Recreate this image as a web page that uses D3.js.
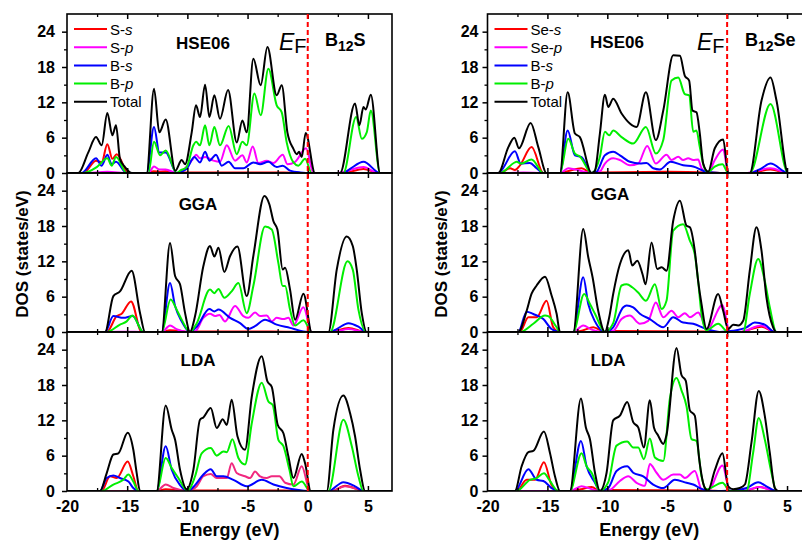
<!DOCTYPE html>
<html><head><meta charset="utf-8">
<script src="https://cdn.jsdelivr.net/npm/d3@7"></script>
<style>
body{margin:0;background:#fff;}
svg{display:block;font-family:"Liberation Sans",Arial,sans-serif;}
</style></head><body>
<svg id="c" width="802" height="541"></svg>
<script>
// ---------- DATA: [energy (eV), DOS (states/eV)] ----------
const energyTicks=[-20,-15,-10,-5,0,5];
const energyMinor=[-17.5,-12.5,-7.5,-2.5,2.5];
const dosTicks=[0,6,12,18,24];
const dosMinor=[3,9,15,21];
const methods=["HSE06","GGA","LDA"];
const legendS=["S-","S-","B-","B-","Total"];
const legendSe=["Se-","Se-","B-","B-",""];
const legendOrb=["s","p","s","p",""];

// B12S HSE06
const hseL_Ss=[[-18.64,0],[-17.59,2.1],[-17.12,1.8],[-16.65,4.9],[-16.23,2.4],[-15.87,3.2],[-14.9,0],[-13.3,0],[-12.8,0.3],[-12.3,0.2],[-11.8,0.3],[-10.9,0],[-10.5,0.1],[-2,0.1],[0.3,0],[2.9,0],[4.63,0.7],[5.9,0]];
const hseL_Sp=[[-18.6,0],[-16.65,0.2],[-14.9,0],[-13.24,0],[-12.77,1.1],[-12.33,0.6],[-11.8,0.6],[-10.9,0],[-10.47,0.3],[-9.5,2.5],[-9.28,3.1],[-8.95,2.5],[-8.53,2.7],[-7.84,2.1],[-7.29,1.9],[-6.73,4.7],[-6.04,2.1],[-5.43,3.0],[-5.07,1.8],[-4.57,4.5],[-4.1,1.7],[-3.41,2.1],[-2.85,1.7],[-2.08,3.1],[-1.69,1.5],[-1.05,1.9],[-0.14,4.2],[0.47,0],[2.4,0],[4.63,1.0],[5.87,0]];
const hseL_Bs=[[-18.78,0],[-17.59,2.5],[-17.12,1.25],[-16.65,3.1],[-16.29,1.5],[-15.93,1.9],[-15.04,0],[-13.38,0],[-12.77,7.8],[-12.33,3.5],[-11.8,3.5],[-10.89,0],[-10.5,0.2],[-10.06,0.7],[-9.42,2.7],[-8.95,1.8],[-8.53,3.6],[-8.17,2.1],[-7.62,3.1],[-7.15,1.25],[-6.57,1.9],[-6.04,0.8],[-5.35,0.8],[-4.52,1.8],[-3.96,1.5],[-3.27,1.9],[-2.58,1.0],[-2.08,1.25],[-1.47,0.4],[-0.64,0.1],[0.33,0],[2.96,0],[3.52,0.7],[4.63,1.9],[6.01,0]];
const hseL_Bp=[[-18.64,0],[-17.53,1.0],[-16.65,2.5],[-16.29,1.25],[-15.93,2.7],[-15.04,0],[-13.24,0],[-12.77,5.3],[-12.27,3.0],[-11.8,3.8],[-10.89,0],[-10.6,0.4],[-10.06,1.0],[-9.5,4.7],[-9.28,5.3],[-8.95,4.7],[-8.53,8.1],[-8.17,4.7],[-7.76,7.8],[-7.29,4.7],[-6.57,8.0],[-5.9,3.2],[-5.43,5.3],[-5.07,4.7],[-4.43,13.5],[-3.91,9.8],[-3.27,17.7],[-2.58,11.5],[-2.16,10.3],[-1.75,5.2],[-1.19,1.8],[-0.78,1.25],[-0.22,2.4],[0.33,0],[2.96,0],[4.02,9.5],[4.49,5.8],[4.9,6.9],[5.24,10.6],[6.01,0]];
const hseL_tot=[[-19.06,0],[-18.23,3.5],[-17.59,6.1],[-17.12,4.7],[-16.65,10.2],[-16.23,6.4],[-15.93,8.1],[-15.6,2.4],[-15.18,1.0],[-14.6,0],[-13.38,0],[-12.77,14.3],[-12.33,6.9],[-11.8,9.1],[-11.0,0.4],[-10.47,2.2],[-10.19,1.5],[-9.64,6.9],[-9.28,11.5],[-8.95,9.5],[-8.53,15.0],[-8.17,9.5],[-7.76,13.2],[-7.29,9.2],[-6.62,14.1],[-5.9,5.2],[-5.43,8.9],[-5.07,6.9],[-4.52,19.4],[-3.91,14.9],[-3.35,21.4],[-2.58,13.2],[-2.16,14.9],[-1.69,6.9],[-1.19,4.1],[-0.91,3.2],[-0.72,3.6],[-0.5,2.7],[-0.17,6.8],[0.6,0],[2.69,0],[3.93,11.8],[4.29,8.1],[4.63,11.2],[4.82,10.8],[5.24,13.3],[6.01,0]];

// B12Se HSE06
const hseR_Ss=[[-18.96,0],[-18.12,0.8],[-17.71,0.5],[-17.29,1.3],[-16.32,4.4],[-15.34,0],[-13.95,0],[-13.3,0.3],[-12.15,0.8],[-11.31,0],[-10.6,0.1],[-5,0.2],[-1.5,0.1],[0.1,0],[1.9,0],[3.62,0.6],[5.09,0]];
const hseR_Sp=[[-18.5,0],[-17,0.1],[-15.3,0],[-13.95,0],[-13.26,0.8],[-12.7,0.6],[-11.31,0],[-10.6,0.3],[-10.2,1.6],[-9.51,2.5],[-8.95,2.2],[-8.12,1.3],[-7.42,1.6],[-6.67,4.6],[-5.95,1.6],[-5.06,3.1],[-4.64,2.2],[-4.08,2.75],[-3.67,2.2],[-3.25,2.5],[-2.83,2.2],[-2.42,2.3],[-2.14,0.8],[-1.58,0.05],[-1.03,2.2],[-0.33,4.0],[0.09,0],[1.5,0],[3.62,0.8],[5.09,0]];
const hseR_Bs=[[-19.1,0],[-17.71,3.7],[-17.23,1.6],[-16.46,1.7],[-15.9,0.8],[-15.34,0],[-13.95,0],[-13.31,7.2],[-12.7,3.0],[-12.15,2.7],[-11.31,0],[-10.9,0.2],[-10.2,3.0],[-9.51,3.6],[-8.95,3.0],[-8.12,1.9],[-7.28,1.6],[-6.73,1.7],[-6.17,0.8],[-5.61,0.6],[-4.72,1.9],[-3.67,1.3],[-2.83,1.1],[-1.72,0.2],[-0.61,0],[1.9,0],[2.87,0.8],[3.62,1.6],[5.09,0]];
const hseR_Bp=[[-18.96,0],[-17.71,1.8],[-17.57,1.9],[-17.23,1.6],[-16.32,2.3],[-15.34,0],[-13.95,0],[-13.26,5.8],[-12.7,3.3],[-12.29,2.8],[-11.31,0],[-10.62,2.75],[-10.2,7.0],[-9.84,6.4],[-9.51,7.2],[-8.81,6.1],[-7.84,5.0],[-6.78,7.8],[-5.95,3.3],[-5.33,5.6],[-4.64,15.7],[-4.08,16.2],[-3.53,13.4],[-3.17,13.2],[-2.83,7.0],[-2.56,7.2],[-2.28,4.4],[-1.94,1.1],[-1.58,0.2],[-1.03,1.1],[-0.39,1.5],[0.09,0],[1.89,0],[3.62,11.7],[5.09,0]];
const hseR_tot=[[-19.1,0],[-18.26,4.4],[-17.76,6.0],[-17.37,4.2],[-16.4,8.5],[-15.76,4.4],[-15.07,0],[-13.95,0],[-13.31,13.7],[-12.7,6.7],[-12.29,6.1],[-11.31,0],[-11.05,0.3],[-10.62,6.7],[-10.2,13.3],[-9.92,11.2],[-9.51,12.6],[-8.81,10.1],[-8.12,8.4],[-7.56,7.8],[-6.78,13.7],[-5.95,5.6],[-5.33,10.6],[-4.5,20.0],[-3.94,19.9],[-3.53,16.5],[-3.17,15.7],[-2.89,10.6],[-2.56,10.3],[-2.28,6.7],[-2.0,1.6],[-1.58,0.2],[-1.03,4.2],[-0.33,5.7],[0.09,0],[1.89,0],[2.87,12.3],[3.62,16.2],[4.12,12.3],[5.09,0]];

// B12S GGA
const ggaL_Ss=[[-16.7,0],[-15.87,2.7],[-15.46,3.1],[-14.68,5.2],[-13.8,0],[-12.2,0],[-11.44,0.3],[-10.6,0.2],[-9.9,0],[-9.5,0.1],[-3,0.1],[0.3,0],[1.8,0],[3.38,0.7],[4.85,0]];
const ggaL_Sp=[[-16.5,0],[-15,0.05],[-13.8,0],[-12.13,0],[-11.44,1.1],[-10.9,0.5],[-9.9,0],[-9.36,0.1],[-8.67,2.4],[-8.12,3.1],[-7.7,2.7],[-7.34,2.9],[-6.87,1.8],[-6.04,4.4],[-5.35,2.7],[-4.93,2.4],[-4.38,3.3],[-3.96,2.7],[-3.41,2.8],[-2.99,1.8],[-2.58,2.4],[-2.02,2.2],[-1.61,2.4],[-1.19,1.1],[-0.36,4.2],[0.33,0],[2.13,0],[3.38,0.5],[4.76,0]];
const ggaL_Bs=[[-16.84,0],[-16.15,2.7],[-15.32,2.4],[-14.54,2.7],[-13.66,0],[-12.13,0],[-11.44,8.3],[-11.02,4.4],[-10.47,1.8],[-9.78,0],[-9.22,0.9],[-8.17,3.9],[-7.76,3.5],[-7.42,3.8],[-6.45,2.4],[-5.62,1.5],[-4.93,0.5],[-4.38,1.0],[-3.55,2.1],[-2.58,1.25],[-1.47,0.7],[-0.36,0.1],[0.33,0],[1.86,0],[2.41,0.5],[3.38,1.5],[4.21,0.9],[4.85,0]];
const ggaL_Bp=[[-16.7,0],[-15.6,1.25],[-15.04,1.8],[-14.57,2.8],[-13.66,0],[-12.13,0],[-11.39,5.5],[-10.89,3.8],[-10.47,2.1],[-9.78,0],[-9.22,1.5],[-8.12,7.2],[-7.76,6.6],[-7.42,7.3],[-6.93,5.8],[-6.32,6.9],[-5.76,8.3],[-5.07,3.2],[-4.52,7.8],[-3.55,17.9],[-2.99,17.4],[-2.44,11.7],[-2.08,7.8],[-1.88,7.8],[-1.47,3.8],[-1.05,1.1],[-0.36,2.0],[0.33,0],[1.86,0],[3.3,12.0],[3.74,10.6],[4.21,3.8],[4.85,0]];
const ggaL_tot=[[-16.84,0],[-16.15,6.1],[-15.6,6.9],[-14.63,10.4],[-13.93,3.2],[-13.52,0],[-12.13,0],[-11.44,15.1],[-11.02,9.5],[-10.61,8.1],[-10.19,3.2],[-9.78,0],[-9.36,2.7],[-8.67,11.2],[-8.12,14.6],[-7.76,12.8],[-7.42,14.3],[-6.93,10.2],[-6.45,12.9],[-5.84,14.5],[-5.07,6.1],[-4.52,12.9],[-3.6,23.1],[-3.19,21.7],[-2.85,18.8],[-2.52,17.4],[-2.08,10.6],[-1.88,10.9],[-1.47,7.2],[-1.05,2.1],[-0.36,6.5],[0.33,0],[1.72,0],[2.41,10.6],[3.24,16.2],[3.74,14.6],[4.07,10.6],[4.49,3.2],[4.9,0]];

// B12Se GGA
const ggaR_Ss=[[-17.3,0],[-16.59,2.5],[-15.9,2.5],[-15.07,5.3],[-14.51,0.8],[-13.95,0],[-12.84,0],[-12.0,0.3],[-11.17,0.8],[-10.2,0],[-9.5,0.15],[-2,0.1],[0,0],[1.0,0],[2.87,0.9],[4.0,0]];
const ggaR_Sp=[[-17,0],[-14,0],[-12.84,0],[-12.01,1.1],[-11.3,0.4],[-10.2,0],[-9.51,0.2],[-8.81,2.2],[-8.12,2.8],[-7.28,1.4],[-6.59,1.9],[-5.95,5.0],[-5.33,2.5],[-4.64,3.6],[-4.08,2.5],[-3.53,3.2],[-3.11,2.5],[-2.42,3.3],[-2.14,2.5],[-1.72,0.3],[-0.39,4.6],[0.23,0],[1.06,0],[2.87,1.1],[3.98,0]];
const ggaR_Bs=[[-17.43,0],[-16.73,3.45],[-16.18,3.05],[-15.34,2.2],[-14.65,0.5],[-13.95,0],[-12.84,0],[-12.01,9.3],[-11.59,4.75],[-11.03,1.8],[-10.2,0],[-9.51,0.8],[-8.67,4.2],[-8.39,4.5],[-7.84,4.2],[-7.28,3.1],[-6.45,2.2],[-5.33,0.8],[-4.5,2.5],[-3.67,1.6],[-2.83,1.4],[-1.72,0.5],[-0.61,0],[0.5,0.2],[1.62,0.8],[2.31,1.6],[3.14,1.25],[3.98,0]];
const ggaR_Bp=[[-17.29,0],[-16.18,1.4],[-15.2,2.8],[-14.93,2.7],[-14.23,0.8],[-13.95,0],[-12.84,0],[-11.93,6.45],[-11.45,4.75],[-11.03,3.1],[-10.2,0],[-9.51,1.5],[-8.81,7.9],[-8.39,8.1],[-7.92,7.6],[-7.42,6.7],[-6.78,5.3],[-6.03,8.1],[-5.47,3.9],[-5.06,5.3],[-4.5,17.2],[-3.67,18.3],[-3.11,15.5],[-2.7,13.2],[-2.42,8.7],[-2.14,3.1],[-1.72,0.3],[-0.75,1.4],[0.09,0],[1.34,0],[1.89,6.45],[2.59,12.4],[3.14,8.7],[3.56,4.2],[4.12,0]];
const ggaR_tot=[[-17.43,0],[-16.73,3.6],[-16.32,6.5],[-15.9,7.9],[-15.2,9.4],[-14.65,6.2],[-14.23,3.1],[-13.95,0],[-12.84,0],[-12.01,17.5],[-11.59,12.7],[-11.23,9.3],[-10.76,3.6],[-10.2,0],[-9.84,2.5],[-9.51,6.45],[-8.95,11.5],[-8.25,13.9],[-7.92,11.3],[-7.5,12.1],[-7.06,9.8],[-6.81,8.1],[-6.31,15.2],[-5.83,10.7],[-5.47,11.0],[-5.06,10.4],[-4.5,18.9],[-3.94,22.3],[-3.39,18.05],[-3.11,17.8],[-2.7,13.8],[-2.42,8.7],[-2.14,4.75],[-1.72,0.5],[-0.75,6.45],[-0.33,3.6],[0.09,0.5],[0.5,1.25],[0.92,1.1],[1.34,1.9],[1.89,10.4],[2.45,17.8],[2.87,13.8],[3.28,5.9],[3.84,0.8],[4.12,0]];

// B12S LDA
const ldaL_Ss=[[-17.12,0],[-16.43,2.5],[-15.87,2.2],[-14.96,5.0],[-14.49,2.5],[-14.07,0],[-12.55,0],[-11.8,0.3],[-11.0,0.2],[-10.0,0],[-9.5,0.1],[-2,0.1],[0.25,0],[2.0,0],[3.1,0.9],[4.76,0]];
const ldaL_Sp=[[-17,0],[-14,0],[-12.55,0],[-11.8,1.1],[-11.16,0.5],[-9.97,0],[-9.22,0.8],[-8.67,2.5],[-8.06,2.9],[-7.56,2.2],[-6.73,2.2],[-6.32,4.7],[-5.9,3.05],[-5.21,2.5],[-4.79,2.2],[-4.38,3.3],[-3.96,2.5],[-3.41,2.2],[-2.99,2.5],[-2.35,2.5],[-1.88,1.4],[-1.19,1.1],[-0.5,4.2],[0.19,0],[1.99,0],[3.1,0.8],[4.76,0]];
const ldaL_Bs=[[-17.26,0],[-16.7,2.2],[-16.15,2.65],[-15.6,2.2],[-14.9,1.6],[-14.49,0.5],[-14.07,0],[-12.55,0],[-11.8,7.6],[-11.3,3.6],[-10.61,1.0],[-9.97,0],[-9.36,1.0],[-8.67,2.8],[-8.06,3.7],[-7.56,2.5],[-7.01,2.5],[-6.18,1.9],[-5.07,0.8],[-3.82,1.9],[-2.85,1.1],[-1.75,0.5],[-0.91,0.2],[0.0,0],[1.72,0],[2.96,1.5],[3.93,0.8],[4.63,0]];
const ldaL_Bp=[[-17.12,0],[-16.15,1.1],[-15.32,1.9],[-14.9,2.8],[-14.49,1.6],[-14.07,0],[-12.55,0],[-11.8,5.6],[-11.3,3.9],[-10.75,2.2],[-9.97,0],[-9.36,2.5],[-8.81,6.4],[-8.06,7.3],[-7.56,6.0],[-7.01,6.7],[-6.73,6.6],[-6.26,8.8],[-5.76,5.6],[-5.21,4.5],[-4.65,11.5],[-3.82,18.4],[-3.27,15.2],[-2.91,14.6],[-2.44,8.7],[-2.02,7.6],[-1.52,3.6],[-1.19,0.8],[-0.5,1.6],[0.19,0],[1.72,0],[2.96,12.1],[3.66,7.6],[4.21,2.5],[4.63,0]];
const ldaL_tot=[[-17.26,0],[-16.7,3.05],[-16.15,6.2],[-15.73,6.4],[-14.96,9.9],[-14.49,7.0],[-14.21,3.05],[-13.93,0],[-12.55,0],[-11.8,14.5],[-11.3,10.4],[-11.02,8.7],[-10.61,3.6],[-10.06,0.3],[-9.5,3.6],[-8.95,12.1],[-8.67,12.5],[-8.06,14.1],[-7.56,10.7],[-7.06,12.2],[-6.73,11.2],[-6.32,15.5],[-5.84,9.3],[-5.21,7.0],[-4.65,16.0],[-3.82,22.9],[-3.35,18.6],[-2.99,17.7],[-2.49,11.2],[-2.02,9.8],[-1.61,5.9],[-1.19,2.2],[-0.5,6.3],[-0.22,4.7],[0.25,0],[1.58,0],[2.13,10.4],[2.96,16.2],[3.52,13.2],[3.93,9.3],[4.35,3.6],[4.76,0]];

// B12Se LDA
const ldaR_Ss=[[-17.57,0],[-16.73,1.9],[-16.04,1.9],[-15.29,4.9],[-14.65,1.0],[-14.09,0],[-13.12,0],[-12.2,0.3],[-11.31,0.7],[-10.62,0],[-10,0.15],[-2,0.1],[0,0],[1.5,0],[2.73,0.7],[4.0,0]];
const ldaR_Sp=[[-17,0],[-14,0],[-13.12,0],[-12.15,0.8],[-11.3,0.3],[-10.62,0],[-9.78,0.2],[-8.95,1.7],[-8.25,2.5],[-7.56,1.4],[-6.86,0.9],[-6.45,4.6],[-5.89,3.1],[-5.33,1.9],[-4.5,2.8],[-3.94,2.8],[-3.53,2.2],[-2.7,3.4],[-2.14,0.3],[-1.6,0],[-0.39,4.35],[0.23,0],[1.2,0],[2.73,0.7],[3.98,0]];
const ldaR_Bs=[[-17.71,0],[-16.59,3.7],[-15.9,1.9],[-15.34,1.7],[-14.65,0.5],[-14.09,0],[-13.12,0],[-12.2,8.5],[-11.73,4.2],[-11.03,1.4],[-10.62,0],[-9.92,0.5],[-9.23,3.4],[-8.34,4.2],[-7.84,3.1],[-7.0,2.5],[-6.17,1.1],[-5.33,0.5],[-4.36,1.9],[-3.39,1.4],[-2.83,1.1],[-2.14,0.35],[-1.44,0],[0.5,0.1],[1.62,0.5],[2.59,1.5],[3.28,0.8],[4.12,0]];
const ldaR_Bp=[[-17.57,0],[-16.46,1.9],[-15.9,2.2],[-15.29,3.0],[-14.79,1.7],[-14.09,0],[-13.12,0],[-12.15,6.4],[-11.73,4.2],[-11.31,3.1],[-10.62,0],[-9.92,1.5],[-9.23,7.7],[-8.34,8.4],[-7.84,7.4],[-7.42,7.4],[-6.95,5.4],[-6.45,8.9],[-6.03,5.7],[-5.33,5.1],[-4.78,15.7],[-4.22,19.2],[-3.81,17.1],[-3.39,14.4],[-2.97,8.8],[-2.56,8.5],[-2.14,2.5],[-1.72,0.3],[-0.39,1.4],[0.23,0],[1.62,0],[2.17,6.5],[2.64,12.4],[3.14,8.8],[3.7,3.1],[4.12,0]];
const ldaR_tot=[[-17.71,0],[-17.15,4.2],[-16.59,6.6],[-16.18,6.8],[-15.29,10.1],[-14.79,6.5],[-14.37,2.5],[-13.95,0],[-13.12,0],[-12.2,15.7],[-11.79,10.8],[-11.45,8.8],[-11.03,3.1],[-10.62,0],[-10.06,3.1],[-9.51,12.0],[-8.95,12.8],[-8.34,15.1],[-7.84,11.7],[-7.42,10.8],[-6.95,7.4],[-6.45,15.4],[-6.11,10.8],[-5.75,9.4],[-5.33,8.0],[-5.06,9.5],[-4.22,24.3],[-3.81,19.7],[-3.45,18.7],[-3.11,13.7],[-2.7,12.8],[-2.33,5.4],[-1.86,0.5],[-1.6,0.05],[-1.03,3.5],[-0.39,6.4],[0.09,0.8],[0.5,0.3],[1.06,0.5],[1.48,1.1],[2.03,8.2],[2.64,17.0],[3.14,12.8],[3.56,6.5],[3.98,0.5],[4.26,0]];

// ---------- LAYOUT ----------
const svg=d3.select("#c");
const xDomain=[-20,7], yDomain=[0,27];
const panelTops=[14,173,332], panelH=159;
const colors=["#ff0000","#ff00ff","#0000ff","#00ee00","#000000"];
const plots=[
  {x0:67,x1:392,compound:["B","12","S"],names:legendS,labPad:7,
   panels:[[hseL_Ss,hseL_Sp,hseL_Bs,hseL_Bp,hseL_tot],[ggaL_Ss,ggaL_Sp,ggaL_Bs,ggaL_Bp,ggaL_tot],[ldaL_Ss,ldaL_Sp,ldaL_Bs,ldaL_Bp,ldaL_tot]],
   mLab:[[203,49],[198,210],[198,366]], ef:[279,50], comp:[325,46], ytitle:22, spColor:[null,null,"#f0287f"]},
  {x0:487.5,x1:811,compound:["B","12","Se"],names:legendSe,labPad:4,
   panels:[[hseR_Ss,hseR_Sp,hseR_Bs,hseR_Bp,hseR_tot],[ggaR_Ss,ggaR_Sp,ggaR_Bs,ggaR_Bp,ggaR_tot],[ldaR_Ss,ldaR_Sp,ldaR_Bs,ldaR_Bp,ldaR_tot]],
   mLab:[[617,48],[610,200],[608,366]], ef:[697,50], comp:[745,46], ytitle:441, spColor:[null,null,null]}
];

plots.forEach((pl,pi)=>{
  const x=d3.scaleLinear().domain(xDomain).range([pl.x0,pl.x1]);
  pl.panels.forEach((curves,k)=>{
    const top=panelTops[k], bot=top+panelH;
    const y=d3.scaleLinear().domain(yDomain).range([bot,top]);
    const g=svg.append("g");
    const cid="clip"+pi+"_"+k;
    svg.append("clipPath").attr("id",cid).append("rect")
      .attr("x",pl.x0).attr("y",top).attr("width",pl.x1-pl.x0).attr("height",panelH);
    const line=d3.line().x(d=>x(d[0])).y(d=>y(d[1])).curve(d3.curveMonotoneX);
    const cg=g.append("g").attr("clip-path","url(#"+cid+")");
    curves.forEach((c,ci)=>{
      const data=[[xDomain[0],0]].concat(c,[[xDomain[1],0]]);
      let col=colors[ci];
      if(ci===1 && pl.spColor[k]) col=pl.spColor[k];
      cg.append("path").datum(data).attr("d",line).attr("fill","none")
        .attr("stroke",col).attr("stroke-width",2).attr("stroke-linejoin","round");
    });
    // frame
    g.append("rect").attr("x",pl.x0).attr("y",top).attr("width",pl.x1-pl.x0).attr("height",panelH)
      .attr("fill","none").attr("stroke","#000").attr("stroke-width",1.6);
    // y axis
    const ya=g.append("g").attr("transform",`translate(${pl.x0},0)`)
      .call(d3.axisLeft(y).tickValues(dosTicks).tickSize(5).tickPadding(pl.labPad).tickFormat(d3.format("d")));
    ya.select(".domain").remove();
    ya.selectAll("line").attr("stroke-width",1.5);
    ya.selectAll("text").attr("font-size",16).attr("font-weight","bold").attr("fill","#000")
      .attr("font-family","'Liberation Sans',Arial,sans-serif");
    const ym=g.append("g").attr("transform",`translate(${pl.x0},0)`)
      .call(d3.axisLeft(y).tickValues(dosMinor).tickSize(3).tickFormat(""));
    ym.select(".domain").remove(); ym.selectAll("line").attr("stroke-width",1.3);
    // x ticks inward top/bottom
    [[bot,d3.axisBottom],[top,d3.axisTop]].forEach(([yy,ax])=>{
      const a=g.append("g").attr("transform",`translate(0,${yy})`)
        .call(ax(x).tickValues(energyTicks.filter(v=>v>xDomain[0])).tickSize(-5).tickFormat(""));
      a.select(".domain").remove(); a.selectAll("line").attr("stroke-width",1.5);
      const b=g.append("g").attr("transform",`translate(0,${yy})`)
        .call(ax(x).tickValues(energyMinor).tickSize(-3).tickFormat(""));
      b.select(".domain").remove(); b.selectAll("line").attr("stroke-width",1.3);
    });
    if(k===2){
      const xl=g.append("g").attr("transform",`translate(0,${bot})`)
        .call(d3.axisBottom(x).tickValues(energyTicks).tickSize(0).tickPadding(10).tickFormat(d3.format("d")));
      xl.select(".domain").remove();
      xl.selectAll("text").attr("font-size",16).attr("font-weight","bold").attr("fill","#000")
        .attr("font-family","'Liberation Sans',Arial,sans-serif")
        .text(d=>d<0?"-"+Math.abs(d):d);
    }
    // method label
    g.append("text").attr("x",pl.mLab[k][0]).attr("y",pl.mLab[k][1]).attr("text-anchor","middle")
      .attr("font-size",17).attr("font-weight","bold").text(methods[k]);
  });
  // Fermi level
  svg.append("line").attr("x1",x(0)).attr("x2",x(0)).attr("y1",panelTops[0]).attr("y2",panelTops[2]+panelH)
    .attr("stroke","#ff0000").attr("stroke-width",2).attr("stroke-dasharray","5,3");
  // E_F
  const ef=svg.append("text").attr("x",pl.ef[0]).attr("y",pl.ef[1]).attr("font-size",23);
  ef.append("tspan").attr("font-style","italic").text("E");
  ef.append("tspan").attr("font-size",20).attr("dy",3).text("F");
  // compound
  const ct=svg.append("text").attr("x",pl.comp[0]).attr("y",pl.comp[1]).attr("font-size",18).attr("font-weight","bold");
  ct.append("tspan").text(pl.compound[0]);
  ct.append("tspan").attr("font-size",14).attr("dy",5).text(pl.compound[1]);
  ct.append("tspan").attr("dy",-5).text(pl.compound[2]);
  // legend
  const lx=pl.x0+7;
  pl.names.forEach((nm,i)=>{
    const ly=29+i*18.2;
    svg.append("line").attr("x1",lx).attr("x2",lx+33).attr("y1",ly).attr("y2",ly)
      .attr("stroke",colors[i]).attr("stroke-width",2);
    const t=svg.append("text").attr("x",lx+36).attr("y",ly+5.5).attr("font-size",15);
    if(i<4){ t.append("tspan").text(nm); t.append("tspan").attr("font-style","italic").text(legendOrb[i]); }
    else t.text("Total");
  });
  // axis titles
  svg.append("text").attr("transform",`translate(${pl.ytitle+6},254) rotate(-90)`).attr("text-anchor","middle")
    .attr("font-size",17).attr("font-weight","bold").text("DOS (states/eV)");
  svg.append("text").attr("x",(pl.x0+Math.min(pl.x1,802)+ (pi===1?9:0))/2).attr("y",536).attr("text-anchor","middle")
    .attr("font-size",18).attr("font-weight","bold").text("Energy (eV)");
});
</script>
</body></html>
